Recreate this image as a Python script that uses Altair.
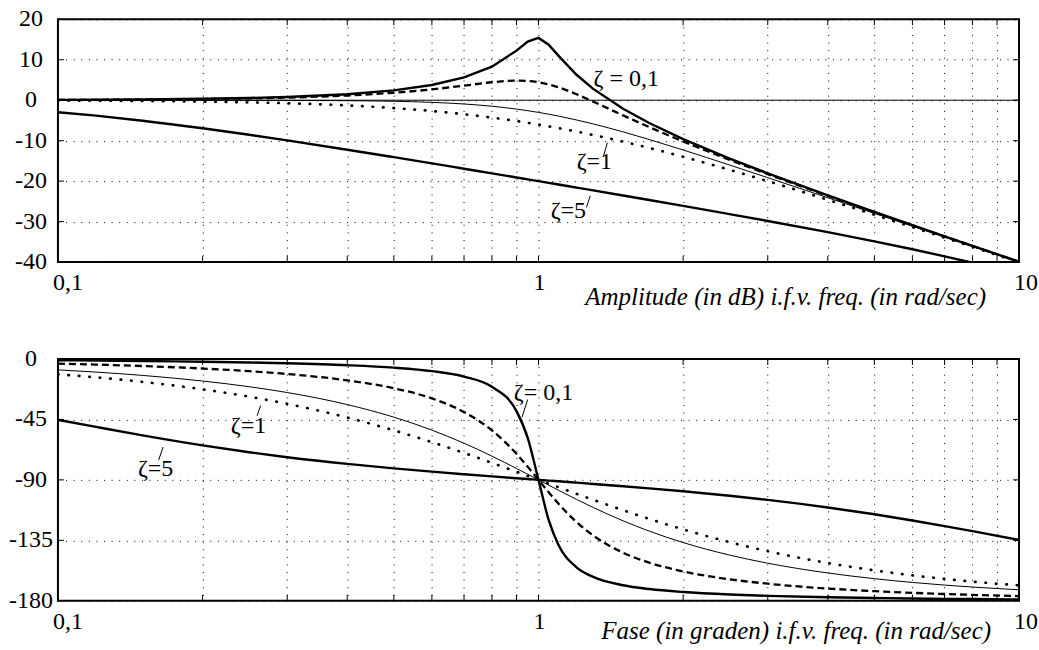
import altair as alt
import pandas as pd

# ---------------- data ----------------
freq = [0.1, 0.12, 0.15, 0.2, 0.25, 0.3, 0.4, 0.5, 0.6, 0.7, 0.8, 0.9, 0.95, 1.0,
        1.05, 1.1, 1.2, 1.3, 1.5, 1.7, 2, 2.5, 3, 4, 5, 6, 7, 8, 10]

mag_z01 = [0.09, 0.12, 0.19, 0.35, 0.55, 0.81, 1.49, 2.44, 3.77, 5.62, 8.30, 12.25, 14.49, 15.39,
           13.73, 11.02, 6.29, 2.80, -2.12, -5.63, -9.60, -14.43, -18.08, -23.53, -27.61, -30.89,
           -33.63, -35.99, -39.91]
mag_z03 = [0.07, 0.10, 0.16, 0.29, 0.45, 0.65, 1.17, 1.85, 2.68, 3.60, 4.44, 4.85, 4.76, 4.44,
           3.90, 3.19, 1.48, -0.35, -3.75, -6.64, -10.19, -14.74, -18.28, -23.63, -27.67, -30.93,
           -33.66, -36.01, -39.93]
mag_z07 = [0.00, 0.00, 0.00, -0.01, -0.02, -0.04, -0.11, -0.26, -0.53, -0.93, -1.49, -2.19, -2.59,
           -3.01, -3.45, -3.92, -4.88, -5.86, -7.83, -9.71, -12.30, -16.03, -19.14, -24.10, -27.97,
           -31.13, -33.81, -36.12, -40.00]
mag_z1 = [-0.09, -0.12, -0.19, -0.34, -0.53, -0.75, -1.29, -1.94, -2.67, -3.46, -4.30, -5.15, -5.59,
          -6.02, -6.45, -6.89, -7.75, -8.60, -10.24, -11.80, -13.98, -17.21, -20.00, -24.61, -28.30,
          -31.36, -33.98, -36.26, -40.09]
mag_z5 = [-2.97, -3.82, -5.06, -6.92, -8.53, -9.93, -12.23, -14.08, -15.61, -16.93, -18.07, -19.09,
          -19.56, -20.00, -20.42, -20.83, -21.59, -22.29, -23.55, -24.66, -26.12, -28.15, -29.84,
          -32.61, -34.88, -36.84, -38.58, -40.16, -42.97]

ph_z01 = [-0.98, -1.19, -1.49, -2.03, -2.60, -3.21, -4.63, -6.47, -9.06, -13.13, -20.69, -38.84,
          -58.88, -90.0, -119.87, -138.31, -155.13, -162.24, -168.47, -171.31, -173.53, -175.37,
          -176.35, -177.40, -177.97, -178.33, -178.58, -178.76, -179.02]
ph_z03 = [-3.47, -4.18, -5.26, -7.13, -9.09, -11.19, -15.95, -21.80, -29.36, -39.47, -53.13, -70.62,
          -80.29, -90.0, -99.24, -107.65, -121.43, -131.50, -144.25, -151.64, -158.20, -164.05,
          -167.32, -170.91, -172.87, -174.13, -175.00, -175.64, -176.53]
ph_z07 = [-8.13, -9.77, -12.25, -16.42, -20.66, -24.99, -33.96, -43.31, -52.97, -62.74, -72.35,
          -81.51, -85.85, -90.0, -93.95, -97.69, -104.54, -110.57, -120.51, -128.17, -136.69,
          -146.04, -152.06, -159.34, -163.58, -166.37, -168.35, -169.82, -171.87]
ph_z1 = [-11.42, -13.69, -17.06, -22.62, -28.07, -33.40, -43.60, -53.13, -61.93, -69.98, -77.32,
         -83.97, -87.06, -90.0, -92.79, -95.45, -100.39, -104.86, -112.62, -119.07, -126.87,
         -136.40, -143.13, -151.93, -157.38, -161.08, -163.74, -165.75, -168.58]
ph_z5 = [-45.29, -50.60, -56.91, -64.36, -69.44, -73.13, -78.14, -81.47, -83.91, -85.83, -87.42,
         -88.79, -89.41, -90.0, -90.59, -91.09, -92.10, -93.04, -94.76, -96.34, -98.53, -101.86,
         -104.93, -110.56, -115.64, -120.26, -124.44, -128.22, -134.71]

x_ticks = [0.1, 0.2, 0.3, 0.4, 0.5, 0.6, 0.7, 0.8, 0.9, 1, 2, 3, 4, 5, 6, 7, 8, 9, 10]
x_label_vals = [0.1, 1, 10]
x_label_text = ["0,1", "1", "10"]
mag_ticks = [-40, -30, -20, -10, 0, 10, 20]
mag_tick_text = ["-40", "-30", "-20", "-10", "0", "10", "20"]
ph_ticks = [-180, -135, -90, -45, 0]
ph_tick_text = ["-180", "-135", "-90", "-45", "0"]

# annotations (frequency, value, text)
mag_lbl_w = [1.523, 1.307, 1.154]
mag_lbl_v = [5.3, -15.15, -27.5]
mag_lbl_t = ["ζ = 0,1", "ζ=1", "ζ=5"]
ph_lbl_w = [1.024, 0.2492, 0.1597]
ph_lbl_v = [-25.5, -50.0, -81.9]
ph_lbl_t = ["ζ= 0,1", "ζ=1", "ζ=5"]

# leader strokes (w, v) -> (w2, v2)
mag_lead = [(1.365, -13.9, 1.391, -10.5), (1.258, -26.5, 1.282, -23.6)]
ph_lead = [(0.9495, -30.2, 0.9244, -43.3), (0.2597, -42.3, 0.2641, -34.7),
           (0.162, -75.3, 0.1655, -65.6)]

# ---------------- styling ----------------
FONT = "Liberation Serif"
W = 962
H1 = 243
H2 = 242
TICK = 6

series = [
    ("z01", mag_z01, ph_z01, dict(strokeWidth=2.4), "linear"),
    ("z03", mag_z03, ph_z03, dict(strokeWidth=2.3, strokeDash=[7, 4]), "monotone"),
    ("z07", mag_z07, ph_z07, dict(strokeWidth=1), "monotone"),
    ("z1", mag_z1, ph_z1, dict(strokeWidth=2.7, strokeDash=[0.5, 10], strokeCap="round"), "monotone"),
    ("z5", mag_z5, ph_z5, dict(strokeWidth=2.4), "monotone"),
]

xscale = alt.Scale(type="log", domain=[0.1, 10], nice=False)

grid_axis = dict(domain=False, ticks=False, labels=False, title=None, grid=True,
                 gridColor="black", gridDash=[1, 6.6], gridWidth=1, gridOpacity=1)


def panel(vals_key, dom, ticks, tick_text, title, tx, ty, H, lbl_w, lbl_v, lbl_t, leads, zero):
    X = alt.X("w:Q", scale=xscale, axis=alt.Axis(values=x_ticks, **grid_axis))
    Y = alt.Y("v:Q", scale=alt.Scale(domain=dom, nice=False, zero=False),
              axis=alt.Axis(values=ticks, **grid_axis))
    layers = []
    if zero:
        layers.append(alt.Chart(pd.DataFrame({"v": [0]})).mark_rule(
            color="black", strokeWidth=1).encode(y=Y))
    for name, mags, phs, style, interp in series:
        vv = mags if vals_key == "mag" else phs
        df = pd.DataFrame({"w": freq, "v": vv})
        interp_use = interp
        if vals_key == "phase" and name == "z01":
            interp_use = "monotone"
        layers.append(alt.Chart(df).mark_line(color="black", clip=True, interpolate=interp_use,
                                              **style).encode(x=X, y=Y))
    # curve annotations
    lbl = pd.DataFrame({"w": lbl_w, "v": lbl_v, "t": lbl_t})
    layers.append(alt.Chart(lbl).mark_text(font=FONT, fontSize=24, color="black",
                                           align="center", baseline="middle").encode(
        x=X, y=Y, text="t:N"))
    ld = pd.DataFrame({"w": [a[0] for a in leads], "v": [a[1] for a in leads],
                       "w2": [a[2] for a in leads], "v2": [a[3] for a in leads]})
    layers.append(alt.Chart(ld).mark_rule(color="black", strokeWidth=1).encode(
        x=X, y=Y, x2="w2:Q", y2="v2:Q"))
    # tick labels (as text through the scales)
    ylab = pd.DataFrame({"v": ticks, "t": tick_text})
    layers.append(alt.Chart(ylab).mark_text(font=FONT, fontSize=24, color="black",
                                            align="center", baseline="middle").encode(
        x=alt.value(-27), y=Y, text="t:N"))
    xlab = pd.DataFrame({"w": x_label_vals, "t": x_label_text})
    layers.append(alt.Chart(xlab).mark_text(font=FONT, fontSize=24, color="black",
                                            align="left", baseline="top", dx=-5).encode(
        x=X, y=alt.value(H + 9), text="t:N"))
    # axis title
    layers.append(alt.Chart(pd.DataFrame({"t": [title]})).mark_text(
        font=FONT, fontSize=25, fontStyle="italic", color="black", align="right",
        baseline="alphabetic").encode(x=alt.value(tx), y=alt.value(H + ty), text="t:N"))
    # inward ticks
    xt = pd.DataFrame({"w": x_ticks})
    layers.append(alt.Chart(xt).mark_rule(color="black", strokeWidth=1).encode(
        x=X, y=alt.value(H), y2=alt.value(H - TICK)))
    layers.append(alt.Chart(xt).mark_rule(color="black", strokeWidth=1).encode(
        x=X, y=alt.value(0), y2=alt.value(TICK)))
    yt = pd.DataFrame({"v": ticks})
    layers.append(alt.Chart(yt).mark_rule(color="black", strokeWidth=1).encode(
        y=Y, x=alt.value(0), x2=alt.value(TICK)))
    layers.append(alt.Chart(yt).mark_rule(color="black", strokeWidth=1).encode(
        y=Y, x=alt.value(W), x2=alt.value(W - TICK)))
    return alt.layer(*layers, view=alt.ViewBackground(stroke="black", strokeWidth=2)).properties(
        width=W, height=H)


top = panel("mag", [-40, 20], mag_ticks, mag_tick_text,
            "Amplitude (in dB) i.f.v. freq. (in rad/sec)",
            929, 43, H1, mag_lbl_w, mag_lbl_v, mag_lbl_t, mag_lead, True)
bottom = panel("phase", [-180, 0], ph_ticks, ph_tick_text,
               "Fase (in graden) i.f.v. freq. (in rad/sec)",
               934, 38, H2, ph_lbl_w, ph_lbl_v, ph_lbl_t, ph_lead, False)

chart = alt.vconcat(
    top, bottom, spacing=97, bounds="flush",
    padding={"left": 8, "top": 6, "right": 0, "bottom": 0},
    background="white",
)

chart.save("out.html", embed_options={"renderer": "svg", "actions": False})
